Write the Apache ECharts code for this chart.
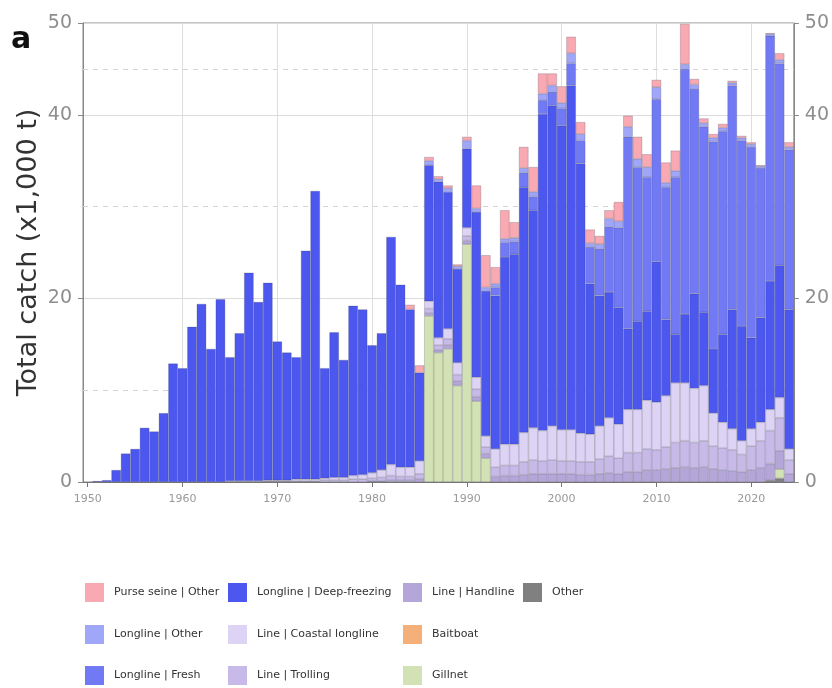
<!DOCTYPE html>
<html><head><meta charset="utf-8">
<script src="https://cdn.jsdelivr.net/npm/echarts@6/dist/echarts.min.js"></script>
<style>html,body{margin:0;padding:0;background:#fff}#c{width:832px;height:688px}</style>
</head><body><div id="c"></div>
<script>
const years = ['1950','1951','1952','1953','1954','1955','1956','1957','1958','1959',
'1960','1961','1962','1963','1964','1965','1966','1967','1968','1969',
'1970','1971','1972','1973','1974','1975','1976','1977','1978','1979',
'1980','1981','1982','1983','1984','1985','1986','1987','1988','1989',
'1990','1991','1992','1993','1994','1995','1996','1997','1998','1999',
'2000','2001','2002','2003','2004','2005','2006','2007','2008','2009',
'2010','2011','2012','2013','2014','2015','2016','2017','2018','2019',
'2020','2021','2022','2023','2024'];

const yTickLabels = [0, 20, 40, 50];
const dashedGridValues = [10, 30, 45];
const decadeGridYears = ['1960','1970','1980','1990','2000','2010','2020'];

// Stack order: bottom -> top
const otherGear = [0,0,0,0,0,0,0,0,0,0,
0,0,0,0,0,0,0,0,0,0,
0,0,0,0,0,0,0,0,0,0,
0,0,0,0,0,0,0,0,0,0,
0,0,0,0,0,0,0,0,0,0,
0,0,0,0,0,0,0,0,0,0,
0,0,0,0,0,0,0,0,0,0,
0,0,0.2,0.4,0];

const gillnet = [0,0,0,0,0,0,0,0,0,0,
0,0,0,0,0,0,0,0,0,0,
0,0,0,0,0,0,0,0,0,0,
0,0,0,0,0,0,18.1,14.1,14.5,10.5,
25.9,8.8,2.6,0,0,0,0,0,0,0,
0,0,0,0,0,0,0,0,0,0,
0,0,0,0,0,0,0,0,0,0,
0,0,0,1.0,0];

const baitboat = [0,0,0,0,0,0,0,0,0,0,
0,0,0,0,0,0,0,0,0,0,
0,0,0,0,0,0,0,0,0,0,
0,0,0,0,0,0,0,0,0,0,
0,0,0,0,0,0,0,0,0,0,
0,0,0,0,0,0,0,0,0,0,
0,0,0,0,0,0,0,0,0,0,
0,0,0,0,0];

const handline = [0,0,0,0,0,0,0,0,0,0,
0,0,0,0,0,0,0,0,0,0,
0,0,0,0,0,0,0,0,0,0,
0.1,0.1,0.2,0.2,0.2,0.3,0.3,0.3,0.4,0.5,
0.4,0.5,0.5,0.6,0.7,0.7,0.8,0.9,0.9,0.9,
0.9,0.9,0.8,0.8,0.9,1.0,0.9,1.1,1.1,1.3,
1.3,1.4,1.5,1.6,1.5,1.6,1.4,1.3,1.2,1.1,
1.3,1.5,1.8,2.0,0.9];

const trolling = [0,0,0,0,0,0,0,0,0,0,
0,0,0,0,0,0,0,0,0,0.1,
0.1,0.1,0.1,0.1,0.1,0.2,0.2,0.2,0.3,0.3,
0.3,0.4,0.5,0.4,0.4,0.6,0.5,0.5,0.7,0.7,
0.5,0.8,0.7,1.0,1.1,1.1,1.4,1.5,1.4,1.5,
1.4,1.4,1.4,1.4,1.6,1.8,1.7,2.1,2.1,2.3,
2.2,2.4,2.8,2.9,2.8,2.9,2.5,2.4,2.3,1.9,
2.6,3.0,3.6,3.6,1.5];

const coastalLongline = [0,0,0,0,0,0,0,0,0,0,
0,0,0,0,0,0.1,0.1,0.1,0.1,0.1,
0.1,0.1,0.2,0.2,0.2,0.2,0.3,0.3,0.4,0.5,
0.6,0.8,1.2,1.0,1.0,1.4,0.8,0.8,1.1,1.3,
0.9,1.3,1.2,2.0,2.3,2.3,3.2,3.5,3.3,3.7,
3.4,3.4,3.1,3.0,3.6,4.2,3.7,4.7,4.7,5.3,
5.2,5.6,6.5,6.3,5.9,6.0,3.6,2.8,2.3,1.5,
1.9,2.0,2.3,2.2,1.2];

const deepFreezing = [0,0.1,0.2,1.3,3.1,3.6,5.9,5.5,7.5,12.9,
12.4,16.9,19.4,14.5,19.9,13.5,16.1,22.7,19.5,21.5,
15.1,13.9,13.3,24.9,31.4,12.0,15.8,12.8,18.5,18.0,
13.9,14.9,24.8,19.9,17.2,9.6,14.8,17.0,14.9,10.2,
8.6,18.0,15.8,16.7,20.4,20.7,26.7,23.7,34.5,34.9,
33.1,37.5,29.4,16.4,14.2,13.7,12.7,8.8,9.6,9.7,
15.3,8.3,5.3,7.5,10.3,8.0,7.0,9.6,13.0,12.5,
9.9,11.4,14.0,14.4,15.2];

const fresh = [0,0,0,0,0,0,0,0,0,0,
0,0,0,0,0,0,0,0,0,0,
0,0,0,0,0,0,0,0,0,0,
0,0,0,0,0,0,0,0,0,0,
0,0,0,0.9,1.6,1.4,1.6,1.5,1.5,1.5,
1.9,2.4,2.5,4.0,5.1,7.1,8.7,20.9,16.8,14.6,
17.7,14.4,17.1,26.7,22.3,20.2,22.6,22.1,24.4,20.2,
20.8,16.3,26.7,22.0,17.4];

const longlineOther = [0,0,0,0,0,0,0,0,0,0,
0,0,0,0,0,0,0,0,0,0,
0,0,0,0,0,0,0,0,0,0,
0,0,0,0,0,0,0.5,0.3,0.4,0.3,
0.9,0.4,0.4,0.4,0.4,0.4,0.5,0.5,0.7,0.7,
0.6,1.1,0.7,0.4,0.5,0.9,0.7,1.1,0.9,1.1,
1.3,0.5,0.7,0.5,0.5,0.4,0.4,0.4,0.3,0.3,
0.3,0.2,0.2,0.4,0.3];

const purseSeine = [0,0,0,0,0,0,0,0,0,0,
0,0,0,0,0,0,0,0,0,0,
0,0,0,0,0,0,0,0,0,0,
0,0,0,0,0.5,0.8,0.4,0.3,0.3,0.2,
0.4,2.5,3.5,1.8,3.1,1.7,2.3,2.7,2.2,1.3,
1.8,1.8,1.3,1.5,0.9,0.9,2.1,1.2,2.4,1.4,
0.8,2.2,2.2,4.4,0.6,0.5,0.4,0.4,0.2,0.2,
0.2,0.1,0.1,0.7,0.5];

const seriesDefs = [
  ['Other', otherGear, '#808080'],
  ['Gillnet', gillnet, '#D3E2B4'],
  ['Baitboat', baitboat, '#F5B07A'],
  ['Line | Handline', handline, '#B5A6D9'],
  ['Line | Trolling', trolling, '#C8BAE8'],
  ['Line | Coastal longline', coastalLongline, '#DDD3F5'],
  ['Longline | Deep-freezing', deepFreezing, '#4B57EF'],
  ['Longline | Fresh', fresh, '#717AF4'],
  ['Longline | Other', longlineOther, '#A0A6F8'],
  ['Purse seine | Other', purseSeine, '#F8A9B2']
];

// legend layout: [name, column, row]
const legendLayout = [
  ['Purse seine | Other', 0, 0], ['Longline | Other', 0, 1], ['Longline | Fresh', 0, 2],
  ['Longline | Deep-freezing', 1, 0], ['Line | Coastal longline', 1, 1], ['Line | Trolling', 1, 2],
  ['Line | Handline', 2, 0], ['Baitboat', 2, 1], ['Gillnet', 2, 2],
  ['Other', 3, 0]
];
const legendColLeft = [85, 228, 403, 523];
const legendRowTop = [583, 625, 666];

const FONT = 'DejaVu Sans, Verdana, sans-serif';
const isDecade = (i, v) => Number(v) % 10 === 0;

const series = seriesDefs.map(([name, vals, color], k) => {
  const s = {
    name, type: 'bar', stack: 'total', barCategoryGap: '0%',
    data: vals.map(v => v === 0 ? null : v),
    itemStyle: { color, borderColor: 'rgba(60,60,80,0.45)', borderWidth: 0.5 },
    emphasis: { disabled: true }, z: 3
  };
  if (k === 0) {
    s.markLine = {
      silent: true, symbol: ['none', 'none'], z: 1, animation: false,
      label: { show: false },
      data: [
        ...dashedGridValues.map(v => ({ yAxis: v, lineStyle: { type: [5, 5], color: '#d4d4d4', width: 1 } })),
        ...decadeGridYears.map(y => ({ xAxis: y, lineStyle: { type: 'solid', color: '#dedede', width: 1 } }))
      ]
    };
  }
  return s;
});

const legends = legendLayout.map(([name, col, row]) => ({
  orient: 'vertical', icon: 'rect', itemWidth: 19, itemHeight: 19, padding: 0,
  left: legendColLeft[col], top: legendRowTop[row], data: [name],
  selectedMode: false, itemStyle: { borderWidth: 0 },
  textStyle: { fontSize: 11, color: '#333', fontFamily: FONT, padding: [0, 0, 0, 5] }
}));

const chart = echarts.init(document.getElementById('c'), null, { renderer: 'canvas' });
chart.setOption({
  animation: false,
  backgroundColor: '#fff',
  grid: { left: 83, right: 38, top: 23, bottom: 206, show: true, borderColor: '#888', borderWidth: 1, containLabel: false },
  graphic: [{ type: 'text', left: 11, top: 25, style: { text: 'a', fontSize: 30, fontWeight: 'bold', fill: '#111', fontFamily: FONT } }],
  legend: legends,
  xAxis: {
    type: 'category', data: years, boundaryGap: true,
    axisLine: { show: true, lineStyle: { color: '#777' } },
    axisTick: { show: true, alignWithLabel: true, interval: isDecade, length: 5, lineStyle: { color: '#777' } },
    axisLabel: { interval: isDecade, fontSize: 11, color: '#999', margin: 12, fontFamily: FONT },
    splitLine: { show: false }
  },
  yAxis: [{
    type: 'value', min: 0, max: 50, interval: 20, position: 'left',
    name: 'Total catch (x1,000 t)', nameLocation: 'middle', nameGap: 41, nameMoveOverlap: false,
    nameTextStyle: { fontSize: 27, color: '#333', fontFamily: FONT },
    axisLine: { show: true, lineStyle: { color: '#888' } },
    axisTick: { show: true, length: 5, lineStyle: { color: '#888' } },
    axisLabel: { fontSize: 19, color: '#8e8e8e', margin: 11, fontFamily: FONT,
      formatter: v => yTickLabels.includes(v) ? String(v) : '' },
    splitLine: { show: true, lineStyle: { color: '#dcdcdc', width: 1 } }
  }, {
    type: 'value', min: 0, max: 50, interval: 20, position: 'right',
    axisLine: { show: true, lineStyle: { color: '#888' } },
    axisTick: { show: true, length: 5, lineStyle: { color: '#888' } },
    axisLabel: { fontSize: 19, color: '#8e8e8e', margin: 11, fontFamily: FONT,
      formatter: v => yTickLabels.includes(v) ? String(v) : '' },
    splitLine: { show: false }
  }],
  series
});
</script></body></html>
